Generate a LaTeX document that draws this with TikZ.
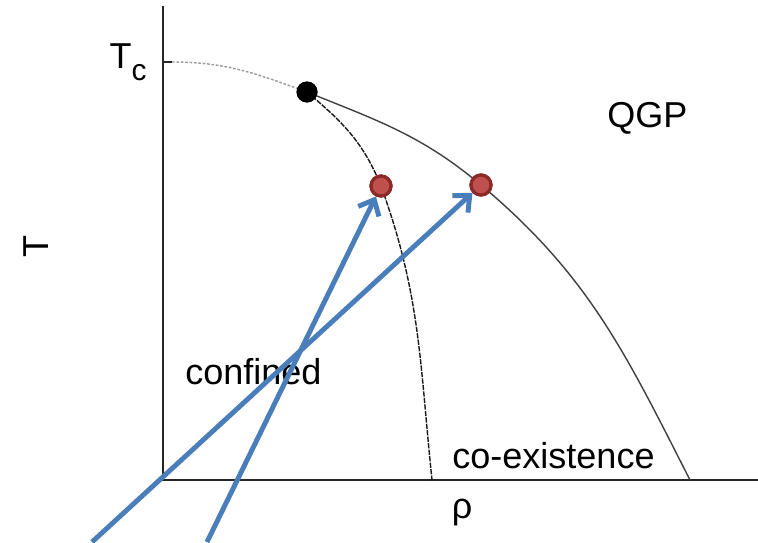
\documentclass[tikz,border=0pt]{standalone}
\usepackage{fontspec}
\setmainfont{Liberation Sans}
\usepackage{xcolor}
\usepackage{tikz}
\usetikzlibrary{arrows.meta,positioning}

\definecolor{arrowblue}{RGB}{74,126,187}
\definecolor{dotfill}{RGB}{192,80,77}
\definecolor{dotdraw}{RGB}{140,42,40}

\begin{document}
\begin{tikzpicture}[
    axis/.style={draw=black!85,line width=1.1pt},
    curve/.style={draw=black!75,line width=0.8pt},
    label/.style={font=\fontsize{20.5}{24}\selectfont,inner sep=0pt},
    crit/.style={circle,fill=black,minimum size=0.42cm,inner sep=0pt},
    point/.style={circle,fill=dotfill,draw=dotdraw,line width=1.8pt,minimum size=0.40cm,inner sep=0pt},
    arrow/.style={-{Straight Barb[length=2.6mm,width=4.6mm]},draw=arrowblue,line width=2.8pt}
]
\useasboundingbox (0,0) rectangle (15.16,10.84);
% axes
\coordinate (origin) at (3.26,1.24);
\coordinate (ytop) at (3.26,10.72);
\coordinate (xend) at (15.16,1.24);
\coordinate (tick) at (3.44,9.6);
\draw[axis] (ytop) -- (origin) -- (xend);
\draw[axis] (origin |- tick) -- (tick);
% points on the phase lines
\node[crit] (cp) at (6.14,9.0) {};
\node[point] (p1) at (7.62,7.12) {};
\node[point] (p2) at (9.62,7.14) {};
\coordinate (innerend) at (8.64,1.24);
\coordinate (outerend) at (13.8,1.24);
% phase lines
\draw[draw=black!40,line width=0.8pt,dash pattern=on 1.5pt off 1pt] (tick) to[out=0,in=160] (cp.center);
\draw[curve,draw=black!90,dash pattern=on 3pt off 0.7pt] (cp.center) to[out=-40,in=112] (p1.center) to[out=-70,in=96] (innerend);
\draw[curve] (cp.center) to[out=-22,in=140] (p2.center) to[out=-40,in=117] (outerend);
\node[crit] at (cp) {};
\node[point] at (p1) {};
\node[point] at (p2) {};
% labels
\node[label] (tc) at (2.56,9.6) {T\raisebox{-0.32em}{\fontsize{17}{17}\selectfont c}};
\node[label,rotate=90] (tlab) at (0.72,5.92) {T};
\node[label] (rho) at (9.24,0.58) {ρ};
\node[label,anchor=base west] (qgp) at (12.14,8.30) {QGP};
\node[label,anchor=base west] (conf) at (3.70,3.16) {confined};
\node[label,anchor=base west] (coex) at (9.04,1.48) {co-existence};
% arrows
\coordinate (srca) at (4.14,0);
\coordinate (srcb) at (1.84,0);
\draw[arrow] (srca) -- (p1);
\draw[arrow] (srcb) -- (p2);
\end{tikzpicture}
\end{document}
